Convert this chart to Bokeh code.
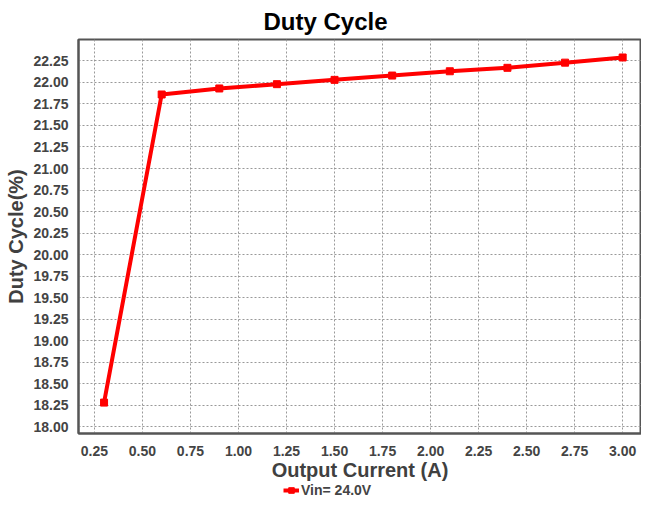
from bokeh.plotting import figure
from bokeh.layouts import column
from bokeh.models import (SingleIntervalTicker, NumeralTickFormatter, Legend, LegendItem,
                          Range1d)
from bokeh.embed import file_html
from bokeh.resources import INLINE

# Data
output_current = [0.3, 0.6, 0.9, 1.2, 1.5, 1.8, 2.1, 2.4, 2.7, 3.0]
duty_cycle = [18.28, 21.86, 21.93, 21.98, 22.03, 22.08, 22.13, 22.17, 22.23, 22.29]
series_name = "Vin= 24.0V"
chart_title = "Duty Cycle"
x_title = "Output Current (A)"
y_title = "Duty Cycle(%)"

FONT = "Liberation Sans"
RED = "#ff0000"

p = figure(width=641, height=483, output_backend="svg", toolbar_location=None,
           x_range=Range1d(0.167, 3.098), y_range=Range1d(17.921, 22.499),
           min_border_left=78, min_border_right=0, min_border_top=39, min_border_bottom=49,
           background_fill_color="white", border_fill_color="white")

p.title.text = chart_title
p.title.text_font = FONT
p.title.text_font_size = "24px"
p.title.text_font_style = "bold"
p.title.text_color = "#000000"
p.title.align = "left"
p.title.offset = 185

p.outline_line_color = "#555555"
p.outline_line_width = 2

p.line(output_current, duty_cycle, line_width=4, color=RED)
p.scatter(output_current, duty_cycle, marker="square", size=7, color=RED)

for ax in (p.xaxis[0], p.yaxis[0]):
    ax.ticker = SingleIntervalTicker(interval=0.25)
    ax.formatter = NumeralTickFormatter(format="0.00")
    ax.major_tick_line_color = None
    ax.minor_tick_line_color = None
    ax.major_tick_out = 0
    ax.major_tick_in = 0
    ax.minor_tick_out = 0
    ax.minor_tick_in = 0
    ax.axis_line_color = "#555555"
    ax.axis_line_width = 2
    ax.major_label_text_font = FONT
    ax.major_label_text_font_size = "14px"
    ax.major_label_text_font_style = "bold"
    ax.major_label_text_color = "#444444"
    ax.axis_label_text_font = FONT
    ax.axis_label_text_font_size = "20px"
    ax.axis_label_text_font_style = "bold"
    ax.axis_label_text_color = "#404040"

p.xaxis[0].axis_label = x_title
p.xaxis[0].major_label_standoff = 12
p.xaxis[0].axis_label_standoff = 0
p.yaxis[0].axis_label = y_title
p.yaxis[0].major_label_standoff = 10
p.yaxis[0].axis_label_standoff = 3

for g in (p.xgrid[0], p.ygrid[0]):
    g.grid_line_color = "#999999"
    g.grid_line_dash = "2 2"
    g.grid_line_width = 1

# Legend strip below the chart (its own renderers sit outside its visible range)
lf = figure(width=641, height=15, output_backend="svg", toolbar_location=None,
            x_range=Range1d(100, 101), y_range=Range1d(100, 101),
            x_axis_type=None, y_axis_type=None, min_border=0,
            outline_line_color=None, background_fill_color="white",
            border_fill_color="white")
lf.xgrid.visible = False
lf.ygrid.visible = False
l_line = lf.line(output_current, duty_cycle, line_width=4, color=RED)
l_pts = lf.scatter(output_current, duty_cycle, marker="square", size=7, color=RED)

legend = Legend(items=[LegendItem(label=series_name, renderers=[l_line, l_pts])],
                location=(205, 0), orientation="horizontal",
                border_line_color=None, background_fill_alpha=0,
                padding=0, margin=0, glyph_width=16, glyph_height=14,
                label_standoff=2,
                label_text_font=FONT, label_text_font_size="14px",
                label_text_font_style="bold", label_text_color="#444444")
lf.add_layout(legend, "center")

layout = column(p, lf, spacing=0)

open("out.html", "w").write(file_html(layout, INLINE))
